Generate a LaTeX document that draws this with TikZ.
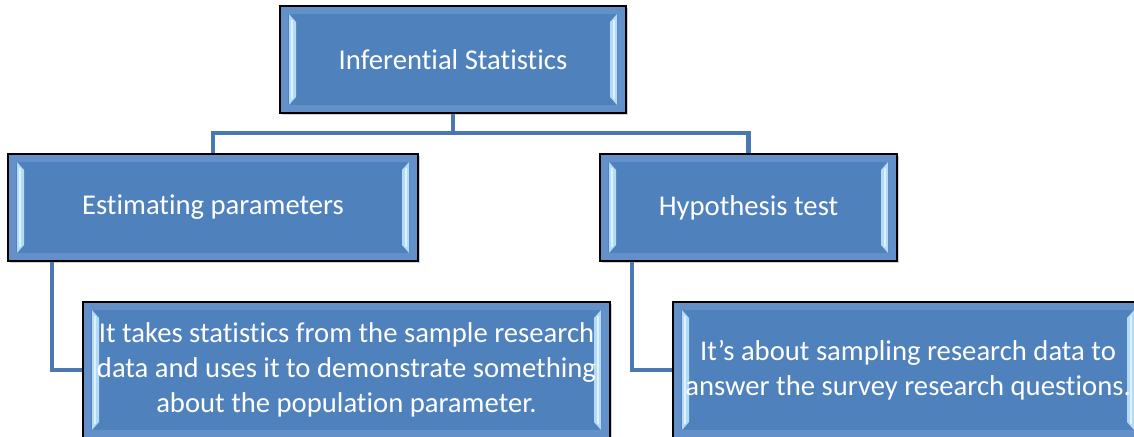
\documentclass[tikz,border=0pt]{standalone}
\usepackage{fontspec}
\setmainfont{Carlito}[Ligatures={NoCommon}]
\usetikzlibrary{calc,shadows,backgrounds}
\definecolor{tilefill}{HTML}{4F81BD}
\definecolor{tileframe}{HTML}{6390C9}
\definecolor{tileglow}{HTML}{B3DBF8}
\definecolor{linkblue}{HTML}{4A78B2}
\tikzset{
  % bevelled tile: lighter frame and glossy side strips, drawn under the text
  bevel/.style={path picture={
    \coordinate (nw) at (path picture bounding box.north west);
    \coordinate (se) at (path picture bounding box.south east);
    \coordinate (ne) at (path picture bounding box.north east);
    \coordinate (sw) at (path picture bounding box.south west);
    \fill[tileframe, even odd rule]
      (nw) rectangle (se)
      ($(nw)+(8,8)$) rectangle ($(se)+(-8,-8)$);
    \fill[tileglow]
      ($(nw)+(9,8)$) -- ($(nw)+(16,16)$) -- ($(sw)+(16,-16)$) -- ($(sw)+(9,-8)$) -- cycle;
    \fill[tileglow]
      ($(ne)+(-9,8)$) -- ($(ne)+(-16,16)$) -- ($(se)+(-16,-16)$) -- ($(se)+(-9,-8)$) -- cycle;
    \fill[white, opacity=0.6] ($(nw)+(11,14)$) rectangle ($(sw)+(13,-14)$);
    \fill[white, opacity=0.6] ($(ne)+(-11,14)$) rectangle ($(se)+(-13,-14)$);
  }},
  tile/.style={draw=black, line width=1pt, fill=tilefill, text=white,
    inner sep=0pt, outer sep=0pt, align=center, bevel,
    font=\fontsize{21.5}{26.3}\selectfont,
    drop shadow={opacity=0.35, shadow xshift=1.5pt, shadow yshift=-1.5pt}},
  link/.style={draw=linkblue, line width=3.6pt, line join=miter},
}
\begin{document}
\begin{tikzpicture}[x=0.75pt, y=-0.75pt]
  \useasboundingbox (0,0) rectangle (1134,436);
  \clip (0,0) rectangle (1134,436);

  \node[tile, minimum width=259.5pt, minimum height=80.25pt] (top) at (453,59.5) {Inferential Statistics};
  \node[tile, minimum width=307.5pt, minimum height=80.25pt] (est) at (213,207.5) {Estimating parameters};
  \node[tile, minimum width=222.75pt, minimum height=80.25pt] (hyp) at (748.5,207.5) {Hypothesis test};
  \node[tile, minimum width=395.25pt, minimum height=102pt] (samp) at (346.5,370)
    {It takes statistics from the sample research\\data and uses it to demonstrate something\\about the population parameter.};
  \node[tile, minimum width=352.5pt, minimum height=102pt] (ans) at (908,370)
    {It’s about sampling research data to\\answer the survey research questions.};

  % connectors behind the boxes
  \begin{pgfonlayer}{background}
    \draw[link] (top.south) -- ++(0,20) coordinate (bar) -| (est.north);
    \draw[link] (bar) -| (hyp.north);
    \draw[link] ($(est.south west)+(44,0)$) |- (samp.west);
    \draw[link] ($(hyp.south west)+(32,0)$) |- (ans.west);
  \end{pgfonlayer}
\end{tikzpicture}
\end{document}
